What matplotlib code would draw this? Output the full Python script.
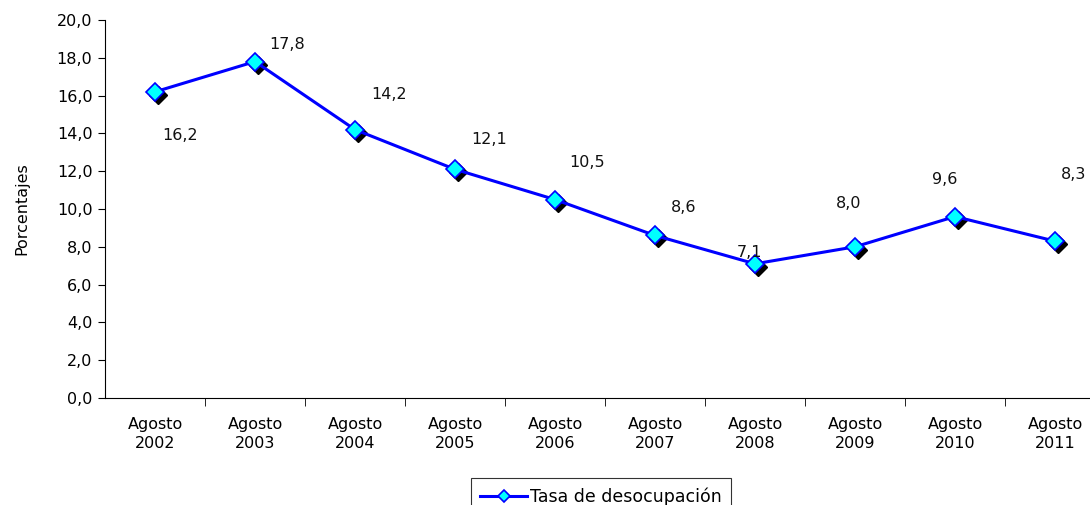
import matplotlib
matplotlib.use("Agg")
import matplotlib.pyplot as plt
import matplotlib.transforms as mtransforms
import numpy as np

# data
years = ["2002", "2003", "2004", "2005", "2006", "2007", "2008", "2009", "2010", "2011"]
tasa = [16.2, 17.8, 14.2, 12.1, 10.5, 8.6, 7.1, 8.0, 9.6, 8.3]
# hand-placed data label offsets (pixels), as in the original spreadsheet chart
label_dx = [25, 32, 34, 34, 32, 29, -5, -6, -10, 19]
label_dy = [-44, 17, 35, 30, 37, 28, 11, 43, 37, 67]

plt.rcParams["font.family"] = ["DejaVu Sans"]
plt.rcParams["font.size"] = 11.5

W, H = 1090, 505
fig = plt.figure(figsize=(W / 100, H / 100), dpi=100)
# axes: x from 105px to 1105px (last category is clipped by the figure edge), y from 20px to 398px
ax = fig.add_axes([105 / W, 1 - 398 / H, 1000 / W, 378 / H])

x = np.arange(len(years))
line_color = "#0000FF"

# shadow of markers
shadow = mtransforms.offset_copy(ax.transData, fig=fig, x=3, y=-3, units="dots")
ax.plot(x, tasa, linestyle="none", marker="D", markersize=9, color="black",
        transform=shadow, zorder=2, clip_on=False)
ax.plot(x, tasa, color=line_color, linewidth=2.2, marker="D", markersize=9,
        markerfacecolor="#00FFFF", markeredgecolor=line_color, markeredgewidth=1.2,
        label="Tasa de desocupación", zorder=3, clip_on=False)

for i, v in enumerate(tasa):
    ax.annotate(f"{v:.1f}".replace(".", ","), (x[i], v),
                xytext=(label_dx[i], label_dy[i]), textcoords="offset pixels",
                ha="center", va="center", color="#111111")

ax.set_xlim(-0.5, len(years) - 0.5)
ax.set_ylim(0, 20)
ax.set_yticks(np.arange(0, 21, 2))
ax.set_yticklabels([f"{t:.1f}".replace(".", ",") for t in np.arange(0, 21, 2)])
ax.set_xticks(x)
ax.set_xticklabels([f"Agosto\n{y}" for y in years], linespacing=1.3)
ax.set_xticks(np.arange(0.5, len(years) - 0.5, 1), minor=True)
ax.tick_params(axis="x", which="major", length=0, pad=14)
ax.tick_params(axis="x", which="minor", length=6, direction="out")
ax.tick_params(axis="y", length=5, direction="out", pad=4)
ax.spines["top"].set_visible(False)
ax.spines["right"].set_visible(False)
ax.set_ylabel("Porcentajes", labelpad=20)

# legend box: top edge near 478px, bottom runs off the figure
leg = fig.legend(loc="upper center", bbox_to_anchor=(601 / W, 1 - 478 / H), frameon=True,
                 fancybox=False, edgecolor="black", fontsize=12.5, handlelength=2.7,
                 borderpad=0.55, borderaxespad=0, handletextpad=0.15)
leg.get_frame().set_linewidth(0.8)
for h in leg.legend_handles:
    h.set_markersize(6)

fig.savefig("out.png", dpi=100)
